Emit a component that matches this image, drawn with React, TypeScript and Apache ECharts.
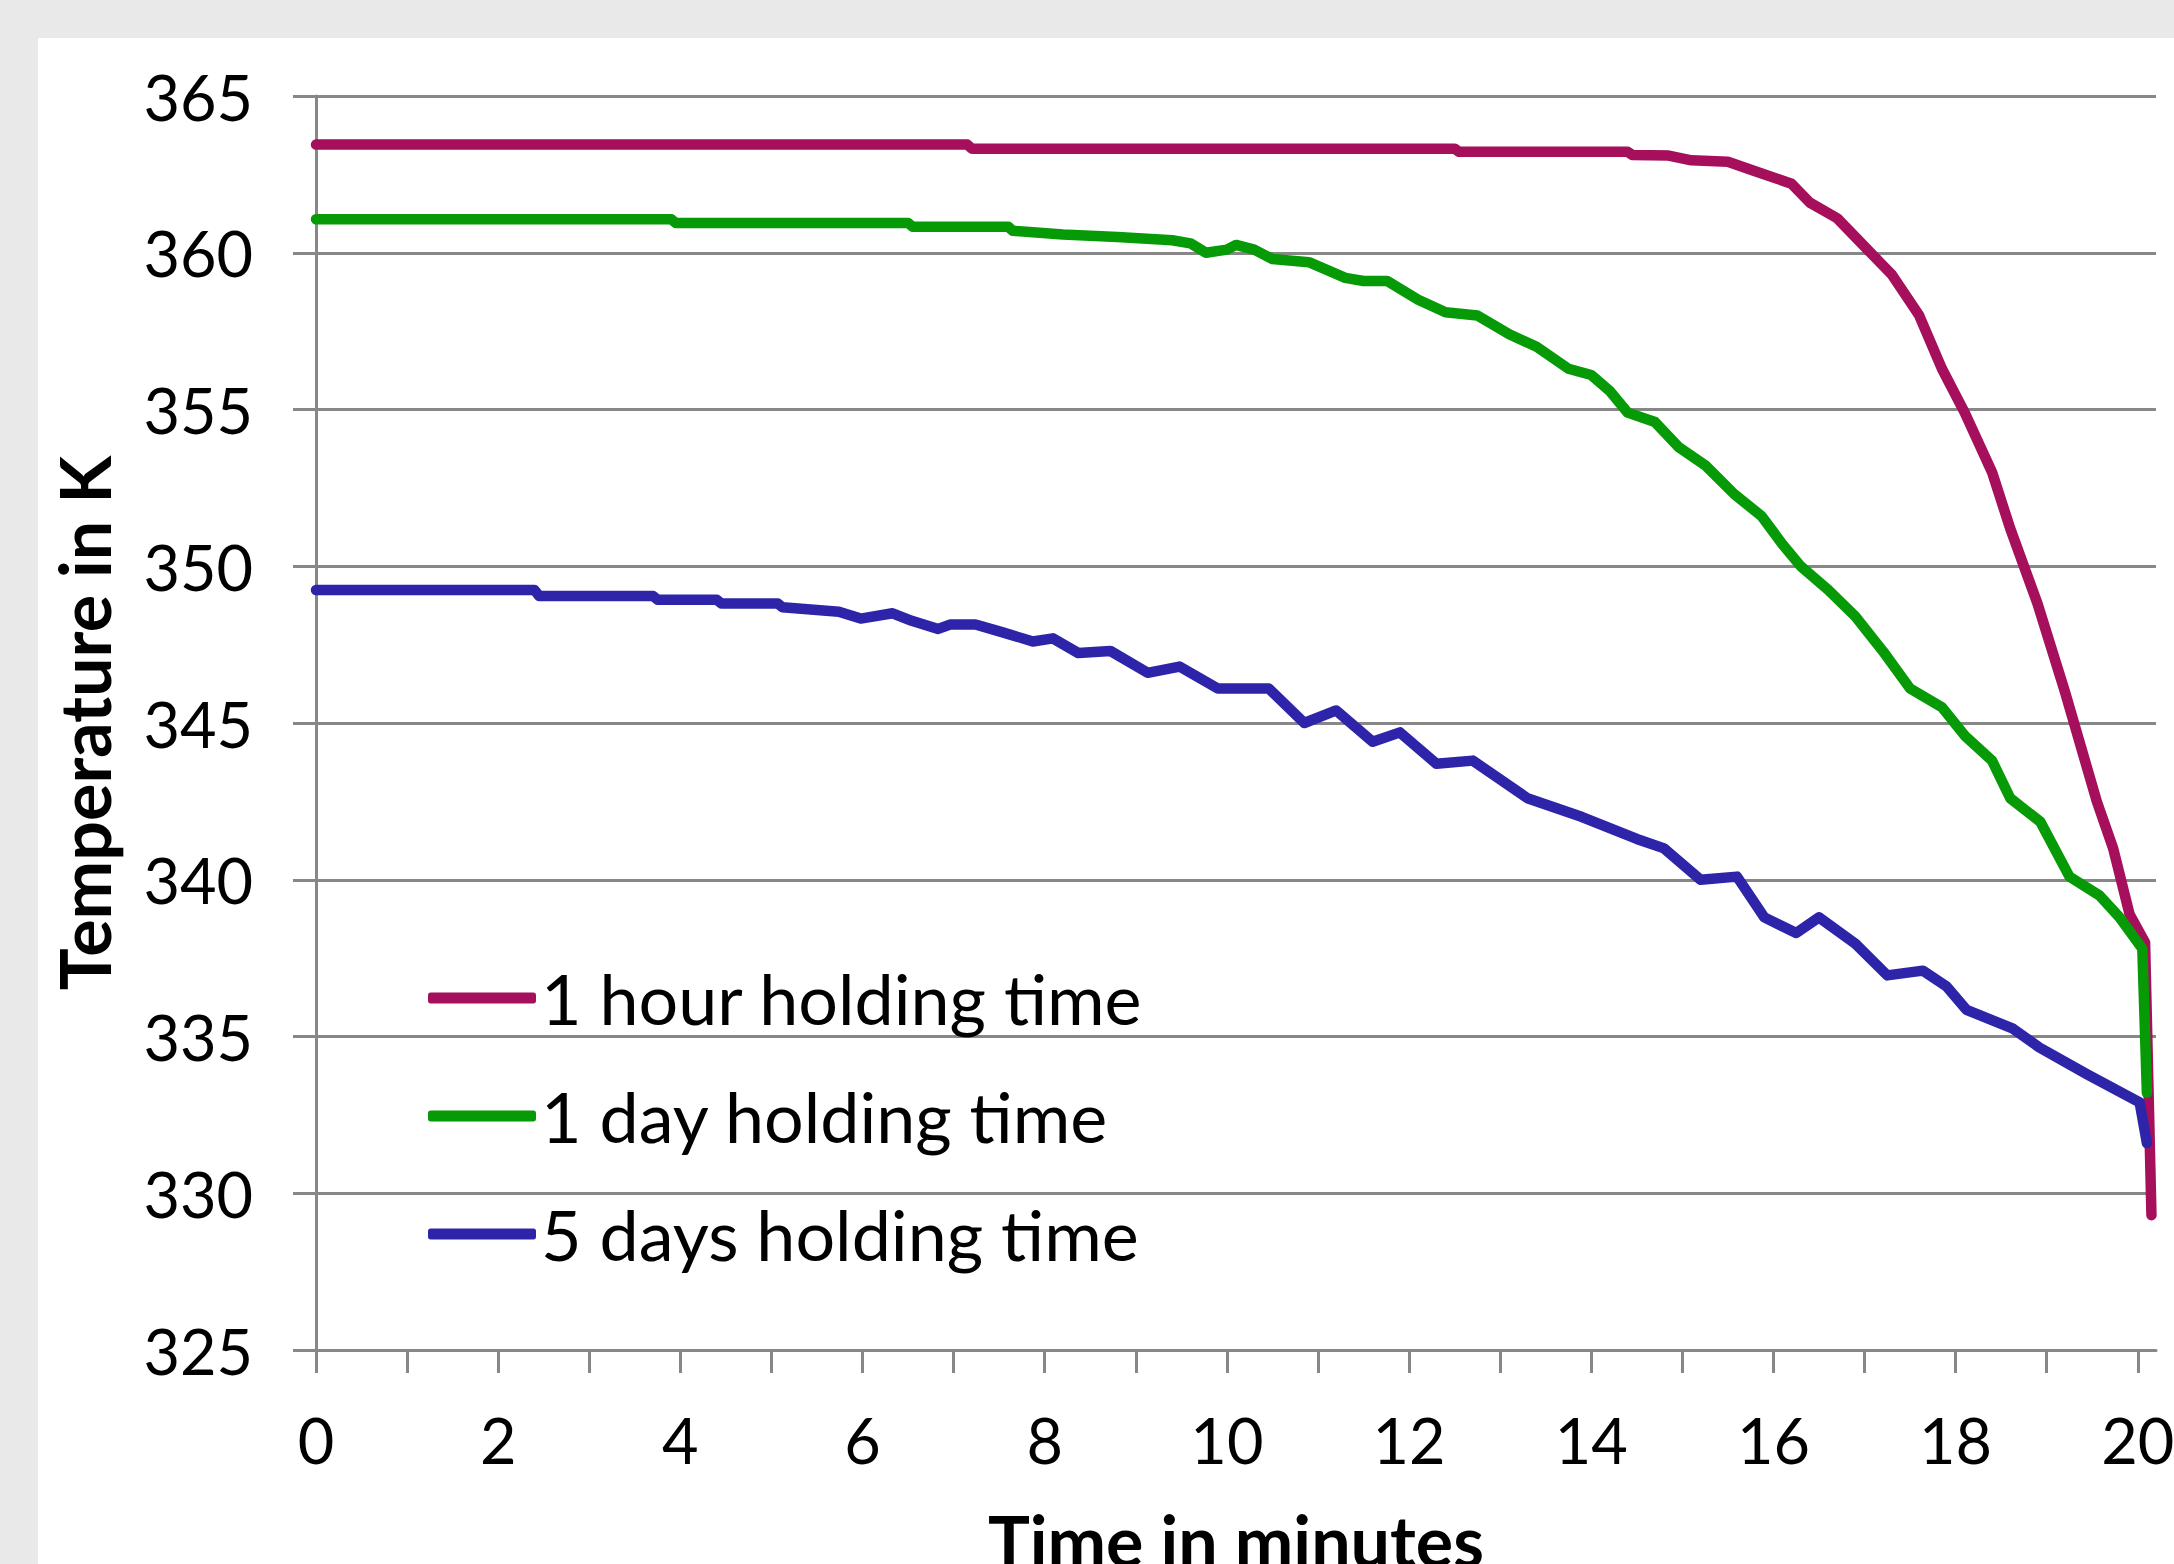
import React, { useEffect, useRef } from "react";
import * as echarts from "echarts";

// ---- data (minutes, Kelvin) ----
const seriesNames = ["1 hour holding time", "1 day holding time", "5 days holding time"];
const seriesColors = ["#A50F5C", "#069A06", "#2E24AA"];

const hourTime = [0, 7.15, 7.2, 12.5, 12.55, 14.4, 14.45, 14.85, 15.1, 15.5, 15.8, 16.2, 16.4, 16.7, 17.0, 17.3, 17.6, 17.85, 18.1, 18.4, 18.6, 18.9, 19.2, 19.55, 19.73, 19.91, 20.08, 20.15];
const hourTemp = [363.45, 363.45, 363.32, 363.32, 363.22, 363.22, 363.12, 363.1, 362.95, 362.9, 362.6, 362.2, 361.6, 361.1, 360.2, 359.3, 358.0, 356.3, 354.9, 353.0, 351.2, 348.8, 346.0, 342.5, 341.0, 338.9, 338.0, 329.3];

const dayTime = [0, 3.9, 3.95, 6.5, 6.55, 7.6, 7.65, 8.2, 8.8, 9.4, 9.6, 9.77, 10.0, 10.1, 10.3, 10.5, 10.9, 11.3, 11.5, 11.76, 12.1, 12.4, 12.75, 13.1, 13.4, 13.75, 14.0, 14.2, 14.4, 14.7, 14.96, 15.26, 15.57, 15.87, 16.1, 16.3, 16.6, 16.9, 17.2, 17.5, 17.85, 18.1, 18.4, 18.6, 18.93, 19.25, 19.58, 19.8, 20.05, 20.1];
const dayTemp = [361.07, 361.07, 360.95, 360.95, 360.83, 360.83, 360.7, 360.58, 360.5, 360.4, 360.3, 360.0, 360.1, 360.25, 360.1, 359.8, 359.7, 359.2, 359.1, 359.1, 358.5, 358.1, 358.0, 357.4, 357.0, 356.3, 356.1, 355.6, 354.9, 354.6, 353.8, 353.2, 352.3, 351.6, 350.7, 350.0, 349.25, 348.4, 347.3, 346.1, 345.5, 344.6, 343.8, 342.6, 341.85, 340.1, 339.5, 338.8, 337.8, 333.2];

const fiveDayTime = [0, 2.4, 2.45, 3.7, 3.75, 4.4, 4.45, 5.07, 5.12, 5.74, 5.98, 6.33, 6.54, 6.83, 6.96, 7.24, 7.53, 7.87, 8.09, 8.37, 8.72, 9.13, 9.48, 9.9, 10.46, 10.85, 11.2, 11.6, 11.9, 12.3, 12.7, 13.3, 13.9, 14.5, 14.8, 15.2, 15.6, 15.9, 16.25, 16.5, 16.9, 17.25, 17.64, 17.9, 18.12, 18.63, 18.92, 19.44, 20.02, 20.1];
const fiveDayTemp = [349.24, 349.24, 349.05, 349.05, 348.93, 348.93, 348.81, 348.81, 348.69, 348.55, 348.33, 348.5, 348.26, 348.0, 348.14, 348.14, 347.9, 347.6, 347.7, 347.23, 347.3, 346.6, 346.8, 346.1, 346.1, 345.0, 345.4, 344.4, 344.7, 343.7, 343.8, 342.6, 342.0, 341.3, 341.0, 340.0, 340.1, 338.8, 338.3, 338.8, 337.96, 336.95, 337.1, 336.6, 335.85, 335.25, 334.65, 333.8, 332.9, 331.6];

const xTickValues = [0, 1, 2, 3, 4, 5, 6, 7, 8, 9, 10, 11, 12, 13, 14, 15, 16, 17, 18, 19, 20];
const xLabelValues = [0, 2, 4, 6, 8, 10, 12, 14, 16, 18, 20];
const yMin = 325;
const yMax = 365;
const yStep = 5;
const xMin = 0;
const xMax = 20.2;

const xTitle = "Time in minutes";
const yTitle = "Temperature in K";

const pair = (t: number[], v: number[]) => t.map((x, i) => [x, v[i]]);

const FONT = "Lato, 'Open Sans', sans-serif";
const GRID_GRAY = "#878787";

export default function App() {
  const ref = useRef<HTMLDivElement>(null);

  useEffect(() => {
    if (!ref.current) return;
    const chart = echarts.init(ref.current, null, { renderer: "svg" });
    const datasets = [pair(hourTime, hourTemp), pair(dayTime, dayTemp), pair(fiveDayTime, fiveDayTemp)];

    chart.setOption({
      animation: false,
      backgroundColor: "#ffffff",
      textStyle: { fontFamily: FONT },
      grid: {
        left: 278,
        top: 58,
        width: 1840,
        height: 1254,
        containLabel: false,
        outerBoundsMode: "none",
      },
      legend: {
        orient: "vertical",
        left: 385,
        top: 915,
        itemWidth: 108,
        itemHeight: 11,
        itemGap: 38,
        icon: "roundRect",
        data: seriesNames,
        textStyle: { fontFamily: FONT, fontSize: 70, color: "#000", lineHeight: 80 },
      },
      xAxis: {
        type: "value",
        min: xMin,
        max: xMax,
        interval: 1,
        name: xTitle,
        nameLocation: "middle",
        nameGap: 155,
        nameTextStyle: { fontFamily: FONT, fontSize: 70, fontWeight: "bold", color: "#000" },
        axisLine: { show: true, onZero: false, lineStyle: { color: GRID_GRAY, width: 3 } },
        axisTick: { show: true, length: 23, inside: false, customValues: xTickValues, lineStyle: { color: GRID_GRAY, width: 3 } },
        axisLabel: { show: true, margin: 58, customValues: xLabelValues, fontFamily: FONT, fontSize: 63, color: "#000" },
        splitLine: { show: false },
      },
      yAxis: {
        type: "value",
        min: yMin,
        max: yMax,
        interval: yStep,
        name: yTitle,
        nameLocation: "middle",
        nameGap: 197,
        nameTextStyle: { fontFamily: FONT, fontSize: 70, fontWeight: "bold", color: "#000" },
        axisLine: { show: true, lineStyle: { color: GRID_GRAY, width: 3 } },
        axisTick: { show: true, length: 23, inside: false, lineStyle: { color: GRID_GRAY, width: 3 } },
        axisLabel: { show: true, margin: 63, fontFamily: FONT, fontSize: 63, color: "#000" },
        splitLine: { show: true, lineStyle: { color: GRID_GRAY, width: 3 } },
      },
      series: seriesNames.map((name, i) => ({
        name,
        type: "line",
        data: datasets[i],
        color: seriesColors[i],
        showSymbol: false,
        symbol: "none",
        smooth: false,
        lineStyle: { width: 10.5, color: seriesColors[i], cap: "round", join: "round" },
        z: 2 + i,
      })),
    });

    return () => chart.dispose();
  }, []);

  return (
    <div
      style={{
        position: "fixed",
        left: 0,
        top: 0,
        width: 2174,
        height: 1564,
        background: "#e9e9e9",
        overflow: "hidden",
      }}
    >
      <div
        ref={ref}
        style={{ position: "absolute", left: 38, top: 38, width: 2136, height: 1526, background: "#ffffff" }}
      />
    </div>
  );
}
